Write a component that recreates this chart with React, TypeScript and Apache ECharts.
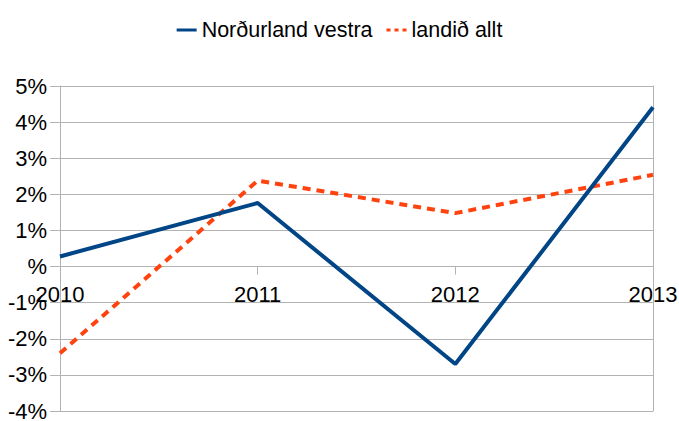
import React, { useEffect, useRef } from "react";
import * as echarts from "echarts";

const years = ["2010", "2011", "2012", "2013"];
const nordurlandVestra = [0.28, 1.76, -2.7, 4.41];
const landidAllt = [-2.4, 2.38, 1.48, 2.54];
const seriesNames = ["Norðurland vestra", "landið allt"];
const yMin = -4;
const yMax = 5;

export default function App() {
  const ref = useRef<HTMLDivElement>(null);
  useEffect(() => {
    if (!ref.current) return;
    const chart = echarts.init(ref.current, null, { renderer: "svg" });
    const font = "Liberation Sans";
    const grey = "#b3b3b3";
    const H = 421;
    const top = 86;
    const bottom = 10;
    const plotH = H - top - bottom;
    const zeroOffset = -plotH * (0 - yMin) / (yMax - yMin);
    const icons = [
      "path://M0,0H20V3H0Z",
      "path://M0,0H4V3H0Z M8,0H12V3H8Z M16,0H20V3H16Z",
    ];
    chart.setOption({
      animation: false,
      backgroundColor: "#ffffff",
      textStyle: { fontFamily: font },
      legend: {
        top: 14,
        left: "center",
        itemWidth: 20,
        itemHeight: 3,
        itemGap: 14,
        textStyle: { fontFamily: font, fontSize: 21.5, color: "#000" },
        data: seriesNames.map((n, i) => ({ name: n, icon: icons[i] })),
      },
      grid: {
        left: 60,
        right: 26,
        top,
        bottom,
        containLabel: false,
        outerBoundsMode: "none",
      },
      xAxis: {
        type: "category",
        data: years,
        boundaryGap: false,
        position: "bottom",
        offset: zeroOffset,
        axisLine: { onZero: false, lineStyle: { color: grey, width: 1 } },
        axisTick: { show: true, length: 8, lineStyle: { color: grey } },
        axisLabel: { fontFamily: font, fontSize: 22, color: "#000", margin: 17 },
        splitLine: { show: false },
      },
      yAxis: [
        {
          type: "value",
          min: yMin,
          max: yMax,
          interval: 1,
          axisLine: { show: true, lineStyle: { color: grey } },
          axisTick: { show: true, length: 10, lineStyle: { color: grey } },
          axisLabel: {
            fontFamily: font,
            fontSize: 22,
            color: "#000",
            margin: 13,
            formatter: (v: number) => (v === 0 ? "%" : v + "%"),
          },
          splitLine: { show: true, lineStyle: { color: grey, width: 1 } },
        },
        {
          type: "value",
          position: "right",
          min: yMin,
          max: yMax,
          interval: 1,
          axisLine: { show: true, lineStyle: { color: grey } },
          axisTick: { show: false },
          axisLabel: { show: false },
          splitLine: { show: false },
        },
      ],
      series: [
        {
          name: seriesNames[0],
          type: "line",
          data: nordurlandVestra,
          showSymbol: false,
          symbol: "none",
          color: "#004586",
          lineStyle: { color: "#004586", width: 4 },
          z: 3,
        },
        {
          name: seriesNames[1],
          type: "line",
          data: landidAllt,
          showSymbol: false,
          symbol: "none",
          color: "#ff420e",
          lineStyle: { color: "#ff420e", width: 4, type: [8, 6] },
          z: 2,
        },
      ],
    });
    return () => chart.dispose();
  }, []);
  return (
    <div
      ref={ref}
      style={{ position: "fixed", left: 0, top: 0, width: 679, height: 421 }}
    />
  );
}
